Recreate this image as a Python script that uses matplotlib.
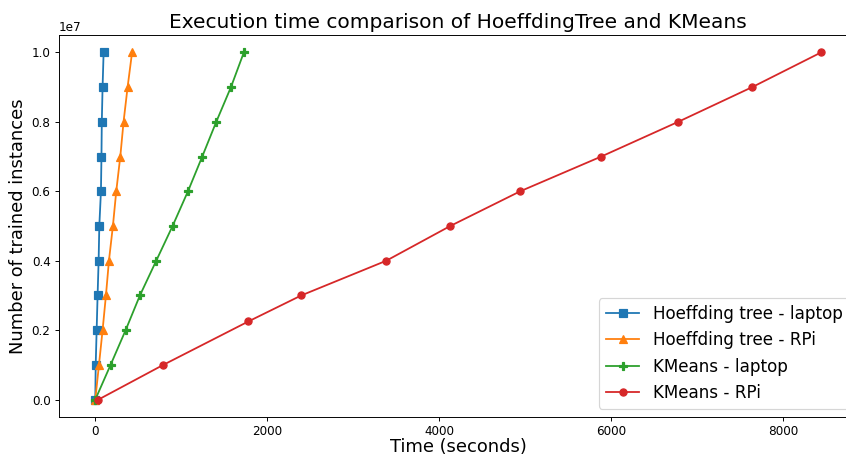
import numpy as np
import matplotlib.pyplot as plt

# number of trained instances
instances = [0, 1e6, 2e6, 3e6, 4e6, 5e6, 6e6, 7e6, 8e6, 9e6, 1e7]
instances_kmeans_rpi = [0, 1e6, 2.25e6, 3e6, 4e6, 5e6, 6e6, 7e6, 8e6, 9e6, 1e7]

# execution time (seconds)
ht_laptop = [0, 5, 16, 27, 39, 47, 66, 72, 76, 85, 97]
ht_rpi = [0, 43, 85, 124, 159, 205, 244, 291, 329, 376, 428]
km_laptop = [0, 178, 353, 519, 709, 899, 1078, 1244, 1407, 1578, 1728]
km_rpi = [35, 790, 1779, 2395, 3384, 4128, 4942, 5884, 6779, 7640, 8442]

# figure is a bit scaled down, so use a lower dpi
fig = plt.figure(figsize=(846 / 86, 457 / 86), dpi=86)
ax = fig.add_axes([0.0697, 0.0875, 0.944, 0.836])

ax.plot(ht_laptop, instances, marker="s", label="Hoeffding tree - laptop")
ax.plot(ht_rpi, instances, marker="^", label="Hoeffding tree - RPi")
ax.plot(km_laptop, instances, marker="P", label="KMeans - laptop")
ax.plot(km_rpi, instances_kmeans_rpi, marker="o", label="KMeans - RPi")

ax.set_title("Execution time comparison of HoeffdingTree and KMeans", fontsize=16.8)
ax.set_xlabel("Time (seconds)", fontsize=15, labelpad=0)
ax.set_ylabel("Number of trained instances", fontsize=15)
ax.legend(loc="lower right", fontsize=14)

plt.savefig("out.png", dpi=86)
